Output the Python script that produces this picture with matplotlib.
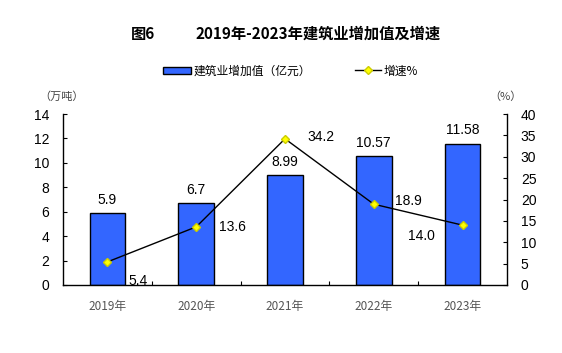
import matplotlib
matplotlib.use("Agg")
import matplotlib.pyplot as plt
from matplotlib.lines import Line2D
from matplotlib.patches import Patch

plt.rcParams['font.family'] = ['Liberation Sans', 'Noto Sans CJK SC', 'DejaVu Sans']

years = ["2019年", "2020年", "2021年", "2022年", "2023年"]
value_added = [5.9, 6.7, 8.99, 10.57, 11.58]
value_labels = ["5.9", "6.7", "8.99", "10.57", "11.58"]
growth = [5.4, 13.6, 34.2, 18.9, 14.0]
growth_labels = ["5.4", "13.6", "34.2", "18.9", "14.0"]
left_ticks = [0, 2, 4, 6, 8, 10, 12, 14]
right_ticks = [0, 5, 10, 15, 20, 25, 30, 35, 40]

fig = plt.figure(figsize=(5.62, 3.53), dpi=100)
ax = fig.add_axes([63/562, 1-285/353, (507-63)/562, (285-114)/353])
x = list(range(len(years)))
ax.bar(x, value_added, width=0.4, color="#3366FF", edgecolor="black", linewidth=1.0, zorder=2)
ax.set_xlim(-0.5, 4.5)
ax.set_ylim(0, 14)
ax.set_yticks(left_ticks)
ax.set_yticklabels([str(t) for t in left_ticks], fontsize=10)
ax.tick_params(axis='y', direction='in', length=3, pad=10)
ax.set_xticks([i + 0.5 for i in range(4)])
ax.set_xticklabels([])
ax.tick_params(axis='x', direction='in', length=3)
for i, yr in enumerate(years):
    ax.text(i, -1.8, yr, ha='center', va='center', fontsize=8.5, color="#555555",
            family=['Noto Sans CJK SC'])
ax.spines['top'].set_visible(False)
ax.spines['right'].set_visible(False)
for s in ['left', 'bottom']:
    ax.spines[s].set_linewidth(1.0)

for i, (v, lab) in enumerate(zip(value_added, value_labels)):
    ax.text(i, v + 0.5, lab, ha='center', va='bottom', fontsize=10)

ax2 = ax.twinx()
ax2.plot(x, growth, color="black", linewidth=1.0, marker='D', markersize=4,
         markerfacecolor="#FFFF00", markeredgecolor="#CCCC00", zorder=3)
ax2.set_ylim(0, 40)
ax2.set_yticks(right_ticks)
ax2.set_yticklabels([str(t) for t in right_ticks], fontsize=10)
ax2.tick_params(axis='y', direction='in', length=3, pad=10)
for s in ['top', 'left', 'bottom']:
    ax2.spines[s].set_visible(False)
ax2.spines['right'].set_linewidth(1.0)

offsets = [(0.34, -4.5), (0.41, 0.0), (0.41, 0.4), (0.39, 0.7), (-0.46, -2.6)]
for i, (g, lab) in enumerate(zip(growth, growth_labels)):
    dx, dy = offsets[i]
    ax2.text(i + dx, g + dy, lab, ha='center', va='center', fontsize=10)

fig.text(131/562, 1 - 34/353, "图6", ha='left', va='center', fontsize=11,
         fontweight='bold', family=['Noto Sans CJK SC'])
fig.text(195/562, 1 - 34/353, "2019年-2023年建筑业增加值及增速", ha='left', va='center',
         fontsize=11, fontweight='bold', family=['Noto Sans CJK SC'])

fig.text(62/562, 1 - 97/353, "（万吨）", ha='center', va='center', fontsize=8,
         color="#444444", family=['Noto Sans CJK SC'])
fig.text(505/562, 1 - 97/353, "（%）", ha='center', va='center', fontsize=8,
         color="#444444", family=['Noto Sans CJK SC'])

bar_handle = Patch(facecolor="#3366FF", edgecolor="black")
line_handle = Line2D([0], [0], color="black", linewidth=1.0, marker='D', markersize=4,
                     markerfacecolor="#FFFF00", markeredgecolor="#CCCC00")
fig.legend([bar_handle], ["建筑业增加值（亿元）"], loc='center left',
           bbox_to_anchor=(163/562, 1 - 71/353), frameon=False,
           prop={'family': ['Noto Sans CJK SC'], 'size': 8.5},
           handlelength=2.4, handleheight=0.6, handletextpad=0.2, borderpad=0, borderaxespad=0)
fig.legend([line_handle], ["增速%"], loc='center left',
           bbox_to_anchor=(355/562, 1 - 71/353), frameon=False,
           prop={'family': ['Noto Sans CJK SC'], 'size': 8.5},
           handlelength=2.2, handletextpad=0.2, borderpad=0, borderaxespad=0)

fig.savefig("out.png", dpi=100)
